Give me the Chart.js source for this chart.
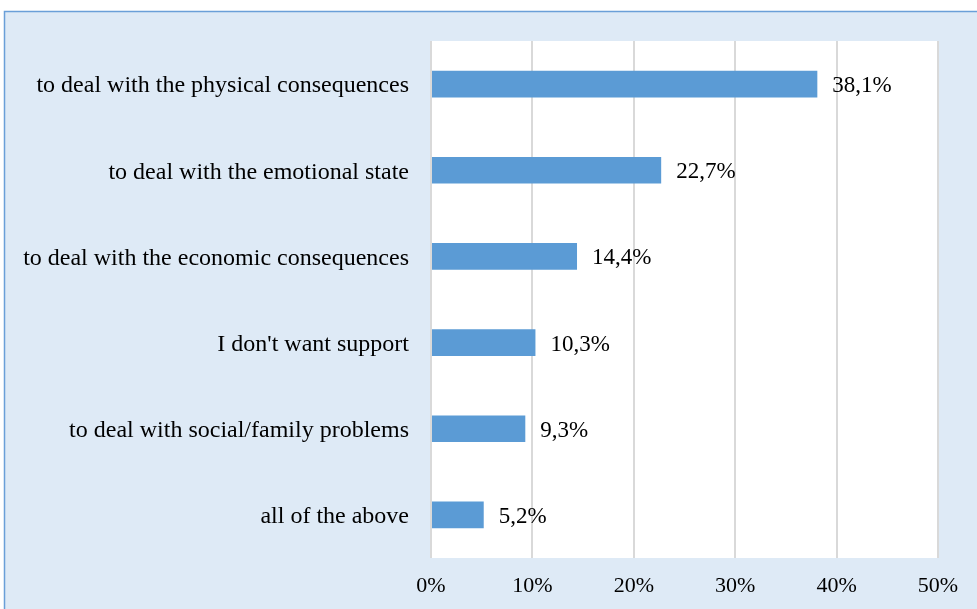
<!DOCTYPE html>
<html>
<head>
<meta charset="utf-8">
<script src="https://cdn.jsdelivr.net/npm/chart.js@4/dist/chart.umd.min.js"></script>
<style>
  html, body { margin: 0; padding: 0; background: #ffffff; }
  #wrap { width: 977px; height: 609px; position: relative; }
</style>
</head>
<body>
<div id="wrap"><canvas id="c" width="977" height="609"></canvas></div>
<script>
// Kinds of support requested, share of respondents (%)
const categories = [
  "to deal with the physical consequences",
  "to deal with the emotional state",
  "to deal with the economic consequences",
  "I don't want support",
  "to deal with social/family problems",
  "all of the above"
];
const shares = [38.1, 22.7, 14.4, 10.3, 9.3, 5.2];
const tickValues = [0, 10, 20, 30, 40, 50];

const FONT = "'Liberation Serif', 'Times New Roman', serif";
const fmt = v => v.toFixed(1).replace('.', ',') + '%';

// Light blue panel with a blue frame, white plot area
const panel = {
  id: 'panel',
  beforeDraw(chart) {
    const ctx = chart.ctx;
    const { left, top, right, bottom } = chart.chartArea;
    ctx.save();
    ctx.fillStyle = '#ffffff';
    ctx.fillRect(0, 0, chart.width, chart.height);
    ctx.fillStyle = '#deeaf6';
    ctx.fillRect(4, 11, chart.width, chart.height);
    ctx.strokeStyle = '#6a9fd8';
    ctx.lineWidth = 1.5;
    ctx.strokeRect(4.5, 11.5, chart.width + 10, chart.height + 10);
    ctx.fillStyle = '#ffffff';
    ctx.fillRect(left, top, right - left, bottom - top);
    ctx.restore();
  }
};

// Value text to the right of each bar
const valueLabels = {
  id: 'valueLabels',
  afterDatasetsDraw(chart) {
    const ctx = chart.ctx;
    const meta = chart.getDatasetMeta(0);
    ctx.save();
    ctx.font = '23px ' + FONT;
    ctx.fillStyle = '#000000';
    ctx.textAlign = 'left';
    ctx.textBaseline = 'middle';
    meta.data.forEach((bar, i) => {
      ctx.fillText(fmt(shares[i]), bar.x + 15, bar.y + 2);
    });
    ctx.restore();
  }
};

new Chart(document.getElementById('c'), {
  type: 'bar',
  data: {
    labels: categories,
    datasets: [{
      data: shares,
      backgroundColor: '#5b9bd5',
      borderWidth: 0,
      categoryPercentage: 1,
      barPercentage: 0.31
    }]
  },
  options: {
    indexAxis: 'y',
    responsive: false,
    animation: false,
    layout: { padding: { top: 41, right: 39, left: 0, bottom: 0 } },
    plugins: { legend: { display: false }, tooltip: { enabled: false } },
    scales: {
      x: {
        min: 0, max: 50,
        afterBuildTicks(axis) { axis.ticks = tickValues.map(v => ({ value: v })); },
        afterFit(axis) { axis.height = 51; },
        grid: { color: '#d9d9d9', lineWidth: 2, drawTicks: false },
        border: { display: false },
        ticks: {
          padding: 15,
          color: '#000000',
          font: { family: FONT, size: 22 },
          callback: v => v + '%'
        }
      },
      y: {
        afterFit(axis) { axis.width = 431; },
        grid: { display: false, drawTicks: false },
        border: { display: false },
        ticks: {
          padding: 22,
          labelOffset: 2,
          color: '#000000',
          font: { family: FONT, size: 24 }
        }
      }
    }
  },
  plugins: [panel, valueLabels]
});
</script>
</body>
</html>
